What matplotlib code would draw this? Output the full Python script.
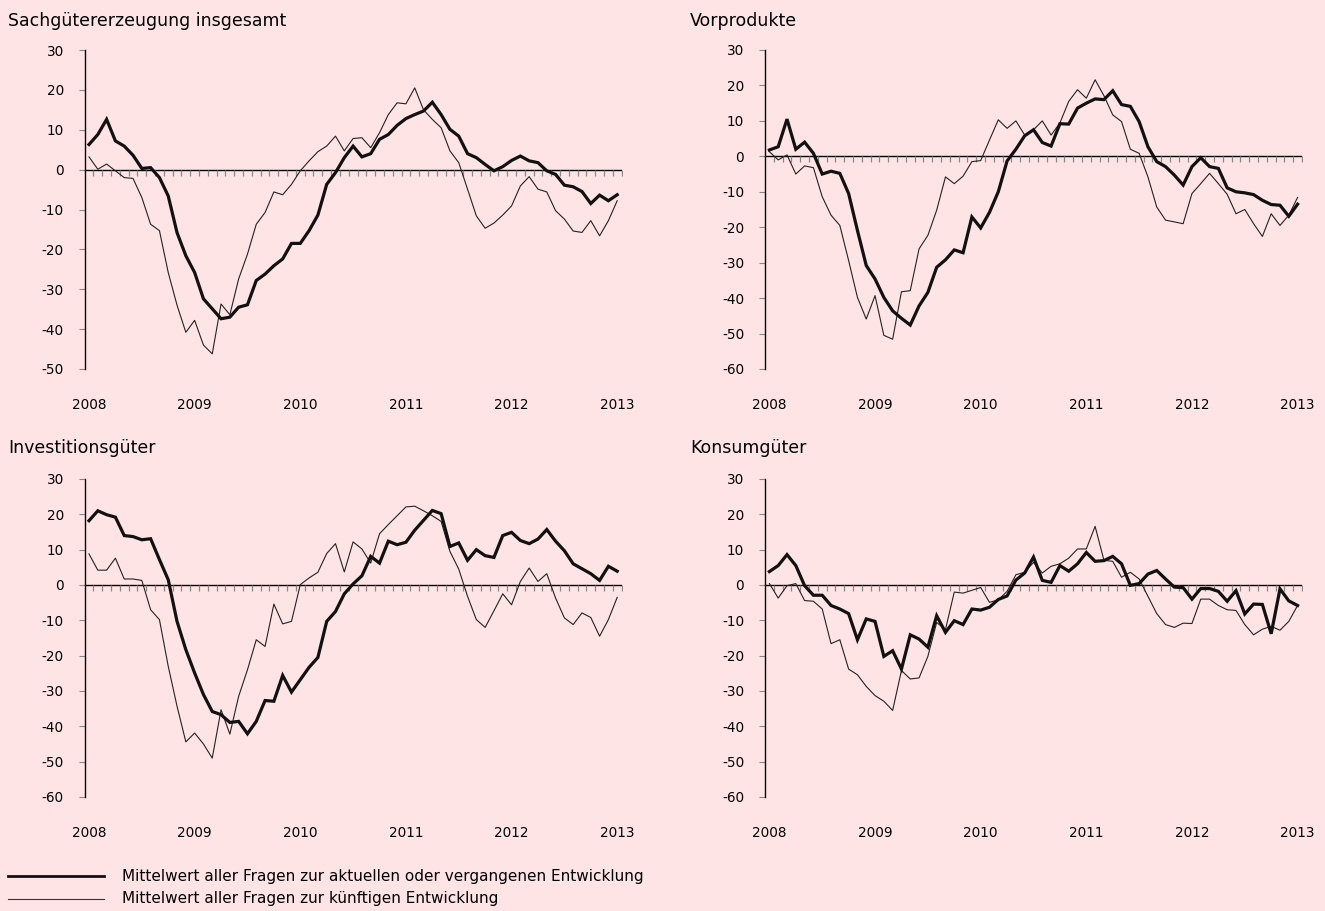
import numpy as np
import matplotlib
matplotlib.use("Agg")
import matplotlib.pyplot as plt
from matplotlib.lines import Line2D

plt.rcParams['font.family'] = ['DejaVu Sans']
plt.rcParams['axes.unicode_minus'] = False

BG = "#FFE4E6"
YEARS = ["2008", "2009", "2010", "2011", "2012", "2013"]
TITLES = ["Sachgütererzeugung insgesamt", "Vorprodukte", "Investitionsgüter", "Konsumgüter"]
LEG_CUR = "Mittelwert aller Fragen zur aktuellen oder vergangenen Entwicklung"
LEG_FUT = "Mittelwert aller Fragen zur künftigen Entwicklung"

# monthly values Jan 2008 .. Jan 2013
sach_cur = [6.3, 8.8, 12.6, 7.2, 5.9, 3.6, 0.3, 0.5, -2, -6.6, -15.8, -21.6, -25.8, -32.4, -34.9,
            -37.4, -37, -34.5, -33.9, -27.8, -26.2, -24.1, -22.4, -18.5, -18.5, -15.3, -11.4, -3.7,
            -0.75, 3, 5.9, 3.2, 4, 7.6, 8.8, 11.1, 12.8, 13.8, 14.7, 16.9, 13.8, 10.1, 8.4, 4, 3,
            1.3, -0.3, 0.75, 2.3, 3.4, 2.2, 1.75, -0.3, -1.2, -3.9, -4.3, -5.5, -8.5, -6.4, -7.8, -6.3]
sach_fut = [3.2, 0.1, 1.4, -0.3, -2, -2.2, -7, -13.7, -15.3, -25.8, -34, -40.8, -37.8, -44, -46.2,
            -33.7, -36.4, -27.4, -21.2, -13.7, -10.75, -5.6, -6.3, -3.7, -0.3, 2.2, 4.5, 5.9, 8.4,
            4.7, 7.8, 8, 5.5, 9.25, 13.8, 16.75, 16.5, 20.5, 15, 12.6, 10.5, 4.7, 1.75, -4.9, -11.6,
            -14.7, -13.4, -11.4, -9.1, -4.1, -1.75, -4.9, -5.6, -10.3, -12.4, -15.4, -15.75, -12.8,
            -16.6, -12.8, -7.8]
vor_cur = [1.8, 2.7, 10.5, 2, 4, 0.85, -5, -4.2, -4.8, -10.5, -20.9, -30.8, -34.6, -39.8, -43.6,
           -45.7, -47.6, -42.2, -38.4, -31.3, -29.2, -26.4, -27.2, -17.1, -20.2, -15.8, -10, -1.3,
           2, 5.8, 7.5, 3.9, 2.9, 9.2, 9.1, 13.6, 15, 16.2, 16, 18.5, 14.6, 14.1, 9.8, 2.7, -1.5,
           -2.9, -5.3, -8.1, -2.9, -0.4, -2.9, -3.4, -8.9, -10, -10.3, -10.8, -12.4, -13.6, -13.8,
           -16.9, -13.5]
vor_fut = [1.3, -1, 0.4, -5, -2.7, -3.2, -11.4, -16.6, -19.5, -29.4, -39.8, -45.9, -39.3, -50.5,
           -51.6, -38.2, -37.9, -26.1, -22.3, -15.2, -5.8, -7.7, -5.6, -1.5, -1.2, 4.6, 10.3, 7.9,
           10, 6, 7.5, 10, 6, 9.4, 15.5, 18.8, 16.4, 21.6, 17.1, 11.7, 9.8, 2, 0.85, -5.8, -14.3,
           -18, -18.5, -19, -10.5, -7.7, -4.8, -7.7, -10.7, -16.2, -15, -19, -22.6, -16.2, -19.5,
           -16.6, -11.6]
inv_cur = [18.2, 21, 19.9, 19.2, 14, 13.7, 12.8, 13.1, 7.2, 1.5, -10.3, -18.3, -24.9, -31, -35.8,
           -36.7, -38.9, -38.6, -42.1, -38.6, -32.7, -32.9, -25.6, -30.3, -26.8, -23.3, -20.5,
           -10.3, -7.5, -2.5, 0.3, 2.6, 8.1, 6.2, 12.4, 11.4, 12.1, 15.5, 18.3, 21.1, 20.2, 10.9,
           11.9, 7, 10, 8.3, 7.8, 14, 14.9, 12.6, 11.7, 13, 15.7, 12.4, 9.7, 6, 4.6, 3.2, 1.3, 5.3, 3.9]
inv_fut = [8.8, 4.2, 4.2, 7.6, 1.7, 1.7, 1.3, -7, -9.8, -23, -34.3, -44.4, -41.9, -45, -49, -35.3,
           -42.2, -31.5, -24, -15.5, -17.4, -5.4, -11, -10.3, 0.1, 2, 3.6, 8.9, 11.7, 3.7, 12.2,
           10.2, 6.2, 14.5, 17.1, 19.6, 22.1, 22.3, 21, 19.6, 18, 9.5, 4.5, -3.2, -9.8, -12, -7.3,
           -2.5, -5.6, 1, 4.8, 1, 3.2, -3.7, -9.3, -11.2, -7.9, -9.2, -14.5, -9.8, -3.5]
kon_cur = [3.8, 5.5, 8.6, 5.5, -0.2, -2.9, -2.9, -5.8, -6.8, -8.1, -15.5, -9.6, -10.3, -20.2,
           -18.6, -23.8, -14.1, -15.3, -17.6, -8.7, -13.4, -10.1, -11.2, -6.8, -7.1, -6.3, -4.1,
           -3.1, 1.4, 3.4, 7.9, 1.3, 0.75, 5.5, 3.9, 6, 9.2, 6.7, 6.9, 8.1, 6, -0.1, 0.4, 3.1, 4.1,
           1.7, -0.6, -0.75, -4, -1, -1, -1.8, -4.6, -1.6, -8.2, -5.4, -5.5, -13.8, -1.1, -4.5, -5.8]
kon_fut = [0.4, -3.7, -0.2, 0.4, -4.4, -4.6, -6.8, -16.6, -15.5, -23.8, -25.4, -28.7, -31.3, -32.9,
           -35.5, -24.2, -26.6, -26.3, -20.2, -10.6, -12.6, -2, -2.3, -1.5, -0.7, -4.9, -4.2, -1.8,
           2.9, 3.6, 6.4, 3.4, 5.3, 6, 7.6, 10.2, 10.2, 16.6, 7, 6.7, 2.2, 3.6, 1.7, -3.2, -8.1,
           -11.2, -12, -10.8, -10.9, -4, -4, -5.8, -7, -7.2, -11.2, -14.1, -12.5, -11.7, -12.8,
           -10.3, -5.8]

SERIES = [(sach_cur, sach_fut), (vor_cur, vor_fut), (inv_cur, inv_fut), (kon_cur, kon_fut)]
YLIMS = [(-50, 30), (-60, 30), (-60, 30), (-60, 30)]

fig = plt.figure(figsize=(13.25, 9.11), dpi=100, facecolor=BG)
W, H = 1325, 911
boxes = [(84.6, 50, 369), (765, 50, 369), (84.6, 479, 797), (765, 479, 797)]
title_pos = [(8, 21), (690, 21), (8, 448), (690, 448)]

for k, (cur, fut) in enumerate(SERIES):
    x0, ytop, ybot = boxes[k]
    ax = fig.add_axes([x0 / W, 1 - ybot / H, 537 / W, (ybot - ytop) / H])
    ax.set_facecolor(BG)
    x = np.arange(len(cur))
    ax.plot(x, fut, color="#222222", lw=0.8, zorder=3)
    ax.plot(x, cur, color="#111111", lw=2.3, zorder=4, solid_joinstyle="miter")
    ax.axhline(0, color="black", lw=1.0, zorder=2)
    mt = np.arange(0.5, len(cur), 1.0)
    ax.plot(mt, np.zeros_like(mt), ls="none", marker=3, ms=4, mew=0.9, color="#888888", zorder=2)
    lo, hi = YLIMS[k]
    ax.set_ylim(lo, hi)
    ax.set_xlim(-0.5, len(cur) - 0.5)
    ax.set_yticks(np.arange(lo, hi + 1, 10))
    ax.set_xticks(np.arange(0, len(cur), 12))
    ax.set_xticklabels(YEARS)
    for s in ["top", "right", "bottom"]:
        ax.spines[s].set_visible(False)
    ax.spines["left"].set_linewidth(1.0)
    ax.tick_params(axis="y", length=4, width=0.8, color="#888888", labelsize=9.8, pad=11)
    ax.tick_params(axis="x", length=0, labelsize=9.8, pad=21)
    tx, ty = title_pos[k]
    fig.text(tx / W, 1 - ty / H, TITLES[k], fontsize=12.5, va="center", ha="left")

# legend
fig.add_artist(Line2D([8 / W, 104 / W], [1 - 876 / H] * 2, color="#111111", lw=2.0))
fig.add_artist(Line2D([8 / W, 104 / W], [1 - 899 / H] * 2, color="#333333", lw=0.8))
fig.text(122 / W, 1 - 876 / H, LEG_CUR, fontsize=11, va="center")
fig.text(122 / W, 1 - 899 / H, LEG_FUT, fontsize=11, va="center")

fig.savefig("out.png", dpi=100, facecolor=BG)
